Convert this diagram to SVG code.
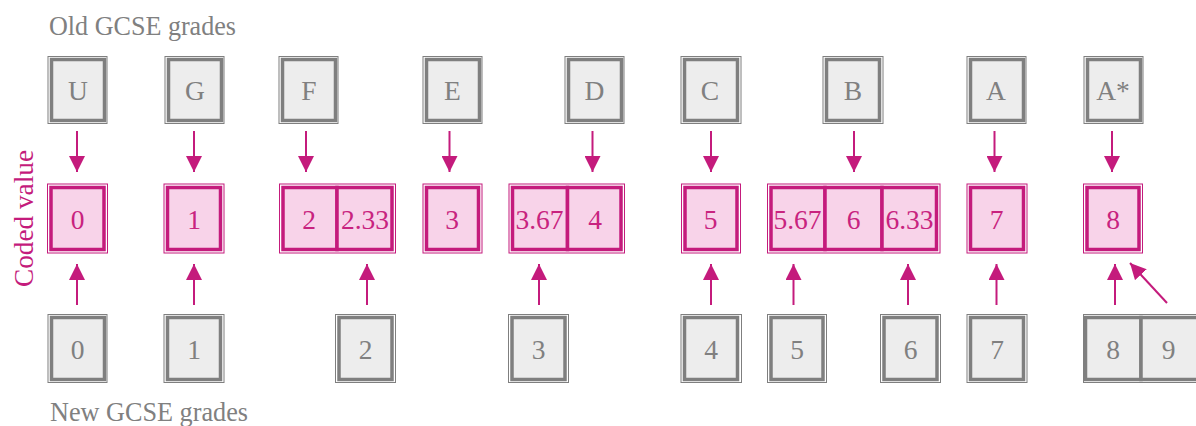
<svg xmlns="http://www.w3.org/2000/svg" width="1196" height="426" viewBox="0 0 1196 426">
<style>
.gt{fill:#ededed;stroke:#7f7f7f;stroke-width:3.5}
.go{fill:none;stroke:#7f7f7f;stroke-width:1}
.pt{fill:#f8d3e9;stroke:#c41b7c;stroke-width:3.5}
.po{fill:none;stroke:#c41b7c;stroke-width:1}
text{font-family:"Liberation Serif","Times New Roman",serif;font-size:27.5px;text-anchor:middle}
.gx{fill:#808080}
.px{fill:#c8237f}
.lbl{text-anchor:start;fill:#808080}
.arr{stroke:#c41b7c;stroke-width:2;fill:none;marker-end:url(#ah)}
</style>
<defs>
<marker id="ah" markerUnits="userSpaceOnUse" markerWidth="16" markerHeight="16" refX="16" refY="8" orient="auto" viewBox="0 0 16 16">
<path d="M0,0 L16,8 L0,16 z" fill="#c41b7c"/>
</marker>
</defs>
<text class="lbl" x="49" y="34.5" textLength="187" lengthAdjust="spacingAndGlyphs">Old GCSE grades</text>
<text class="lbl" x="50" y="420.5" textLength="198" lengthAdjust="spacingAndGlyphs">New GCSE grades</text>
<text x="0" y="0" transform="translate(32.5,218.5) rotate(-90)" style="fill:#c41b7c" textLength="137" lengthAdjust="spacingAndGlyphs">Coded value</text>

<g id="connectors">
<line class="arr" x1="77" y1="131" x2="77" y2="172"/>
<line class="arr" x1="194" y1="131" x2="194" y2="172"/>
<line class="arr" x1="306" y1="131" x2="306" y2="172"/>
<line class="arr" x1="449.5" y1="131" x2="449.5" y2="172"/>
<line class="arr" x1="592.5" y1="131" x2="592.5" y2="172"/>
<line class="arr" x1="711" y1="131" x2="711" y2="172"/>
<line class="arr" x1="854" y1="131" x2="854" y2="172"/>
<line class="arr" x1="994.5" y1="131" x2="994.5" y2="172"/>
<line class="arr" x1="1112" y1="131" x2="1112" y2="172"/>
<line class="arr" x1="77" y1="305" x2="77" y2="264"/>
<line class="arr" x1="194" y1="305" x2="194" y2="264"/>
<line class="arr" x1="367" y1="305" x2="367" y2="264"/>
<line class="arr" x1="539" y1="305" x2="539" y2="264"/>
<line class="arr" x1="711" y1="305" x2="711" y2="264"/>
<line class="arr" x1="793.5" y1="305" x2="793.5" y2="264"/>
<line class="arr" x1="908" y1="305" x2="908" y2="264"/>
<line class="arr" x1="996.5" y1="305" x2="996.5" y2="264"/>
<line class="arr" x1="1115" y1="305" x2="1115" y2="264"/>
<line class="arr" x1="1167" y1="303" x2="1130" y2="263"/>
</g>

<!-- Old GCSE grades -->
<g id="old-U"><rect class="go" x="48" y="56.5" width="59" height="67"/><rect class="gt" x="51.5" y="59.5" width="53" height="61"/><text class="gx" x="78" y="100">U</text></g>
<g id="old-G"><rect class="go" x="165" y="56.5" width="59" height="67"/><rect class="gt" x="168.5" y="59.5" width="53" height="61"/><text class="gx" x="195" y="100">G</text></g>
<g id="old-F"><rect class="go" x="279" y="56.5" width="59" height="67"/><rect class="gt" x="282.5" y="59.5" width="53" height="61"/><text class="gx" x="309" y="100">F</text></g>
<g id="old-E"><rect class="go" x="423" y="56.5" width="59" height="67"/><rect class="gt" x="426.5" y="59.5" width="53" height="61"/><text class="gx" x="452.5" y="100">E</text></g>
<g id="old-D"><rect class="go" x="565" y="56.5" width="59" height="67"/><rect class="gt" x="568.5" y="59.5" width="53" height="61"/><text class="gx" x="594.5" y="100">D</text></g>
<g id="old-C"><rect class="go" x="681" y="56.5" width="60" height="67"/><rect class="gt" x="684.5" y="59.5" width="53" height="61"/><text class="gx" x="710" y="100">C</text></g>
<g id="old-B"><rect class="go" x="823" y="56.5" width="60" height="67"/><rect class="gt" x="826.5" y="59.5" width="53" height="61"/><text class="gx" x="853" y="100">B</text></g>
<g id="old-A"><rect class="go" x="967" y="56.5" width="59" height="67"/><rect class="gt" x="970.5" y="59.5" width="53" height="61"/><text class="gx" x="996" y="100">A</text></g>
<g id="old-Astar"><rect class="go" x="1084" y="56.5" width="59" height="67"/><rect class="gt" x="1087.5" y="59.5" width="53" height="61"/><text class="gx" x="1113" y="100">A*</text></g>

<!-- Coded values -->
<g id="code-0"><rect class="po" x="47.5" y="184" width="60" height="69"/><rect class="pt" x="51" y="187.5" width="53" height="62"/><text class="px" x="77.5" y="229">0</text></g>
<g id="code-1"><rect class="po" x="164" y="184" width="60" height="69"/><rect class="pt" x="167.5" y="187.5" width="53" height="62"/><text class="px" x="194" y="229">1</text></g>
<g id="code-2-233"><rect class="po" x="279.5" y="184" width="116" height="69"/>
<g id="code-2"><rect class="pt" x="283" y="187.5" width="54" height="62"/><text class="px" x="309" y="229">2</text></g>
<g id="code-2.33"><rect class="pt" x="337" y="187.5" width="55" height="62"/><text class="px" x="365" y="229">2.33</text></g></g>
<g id="code-3"><rect class="po" x="423" y="184" width="59" height="69"/><rect class="pt" x="426.5" y="187.5" width="52" height="62"/><text class="px" x="452" y="229">3</text></g>
<g id="code-367-4"><rect class="po" x="509" y="184" width="115.5" height="69"/>
<g id="code-3.67"><rect class="pt" x="512.5" y="187.5" width="55" height="62"/><text class="px" x="539.5" y="229">3.67</text></g>
<g id="code-4"><rect class="pt" x="567.5" y="187.5" width="53.5" height="62"/><text class="px" x="595" y="229">4</text></g></g>
<g id="code-5"><rect class="po" x="681.5" y="184" width="59" height="69"/><rect class="pt" x="685" y="187.5" width="52" height="62"/><text class="px" x="710.5" y="229">5</text></g>
<g id="code-567-6-633"><rect class="po" x="767.5" y="184" width="172.5" height="69"/>
<g id="code-5.67"><rect class="pt" x="771" y="187.5" width="54" height="62"/><text class="px" x="797.5" y="229">5.67</text></g>
<g id="code-6"><rect class="pt" x="825" y="187.5" width="57" height="62"/><text class="px" x="853.5" y="229">6</text></g>
<g id="code-6.33"><rect class="pt" x="882" y="187.5" width="54.5" height="62"/><text class="px" x="909.5" y="229">6.33</text></g></g>
<g id="code-7"><rect class="po" x="967" y="184" width="60" height="69"/><rect class="pt" x="970.5" y="187.5" width="53" height="62"/><text class="px" x="996.5" y="229">7</text></g>
<g id="code-8"><rect class="po" x="1083.5" y="184" width="59" height="69"/><rect class="pt" x="1087" y="187.5" width="52" height="62"/><text class="px" x="1113" y="229">8</text></g>

<!-- New GCSE grades -->
<g id="new-0"><rect class="go" x="48" y="314.5" width="59" height="68"/><rect class="gt" x="51.5" y="317.5" width="53" height="62"/><text class="gx" x="77.5" y="359">0</text></g>
<g id="new-1"><rect class="go" x="164" y="314.5" width="60" height="68"/><rect class="gt" x="167.5" y="317.5" width="53" height="62"/><text class="gx" x="194" y="359">1</text></g>
<g id="new-2"><rect class="go" x="335.5" y="314.5" width="60" height="68"/><rect class="gt" x="339" y="317.5" width="53" height="62"/><text class="gx" x="365.5" y="359">2</text></g>
<g id="new-3"><rect class="go" x="508.5" y="314.5" width="60" height="68"/><rect class="gt" x="512" y="317.5" width="53" height="62"/><text class="gx" x="538.5" y="359">3</text></g>
<g id="new-4"><rect class="go" x="681" y="314.5" width="60.5" height="68"/><rect class="gt" x="684.5" y="317.5" width="53" height="62"/><text class="gx" x="711" y="359">4</text></g>
<g id="new-5"><rect class="go" x="767.5" y="314.5" width="59" height="68"/><rect class="gt" x="771" y="317.5" width="52" height="62"/><text class="gx" x="797" y="359">5</text></g>
<g id="new-6"><rect class="go" x="880.5" y="314.5" width="60" height="68"/><rect class="gt" x="884" y="317.5" width="53" height="62"/><text class="gx" x="910.5" y="359">6</text></g>
<g id="new-7"><rect class="go" x="967" y="314.5" width="60" height="68"/><rect class="gt" x="970.5" y="317.5" width="53" height="62"/><text class="gx" x="997" y="359">7</text></g>
<g id="new-8-9"><rect class="go" x="1083.5" y="314.5" width="120" height="68"/>
<g id="new-8"><rect class="gt" x="1085.5" y="317.5" width="55.5" height="62"/><text class="gx" x="1113" y="359">8</text></g>
<g id="new-9"><rect class="gt" x="1141" y="317.5" width="58" height="62"/><text class="gx" x="1168.5" y="359">9</text></g></g>
</svg>
